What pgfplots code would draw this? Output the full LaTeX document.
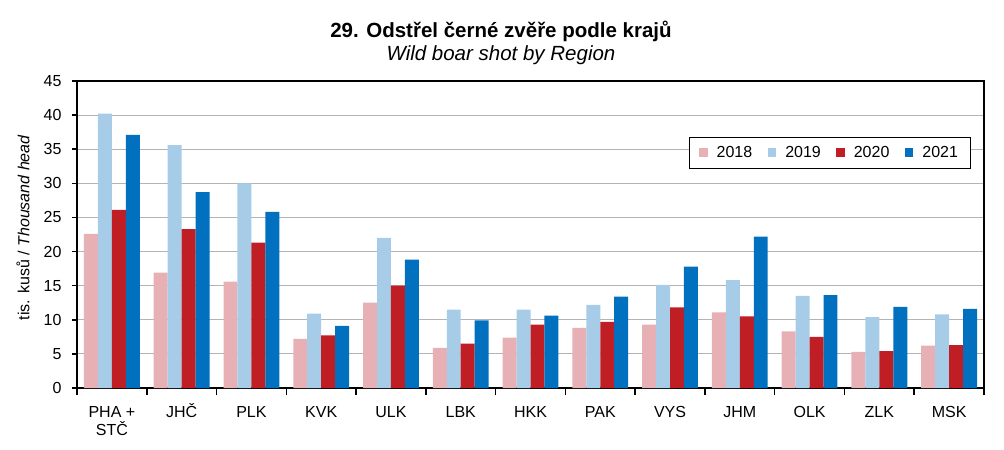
\documentclass[border=0pt]{standalone}
\usepackage{fontspec}
\setmainfont{Liberation Sans}
\usepackage{pgfplots}
\pgfplotsset{compat=1.18}
\definecolor{c18}{HTML}{E6B0B5}
\definecolor{c19}{HTML}{A7CCE7}
\definecolor{c20}{HTML}{BE1E24}
\definecolor{c21}{HTML}{0070BF}
\definecolor{gridc}{HTML}{B4B4B4}
\begin{document}
\begin{tikzpicture}
\useasboundingbox (-77bp,-62bp) rectangle (927bp,388bp);
\begin{axis}[
  at={(0,0)}, anchor=south west,
  scale only axis, width=907bp, height=307bp,
  ymin=0, ymax=45, ytick={0,5,...,45},
  xmin=-0.5, xmax=12.5,
  xtick={0,...,12},
  xticklabels={{\vphantom{Č}PHA +\\STČ},JHČ,\vphantom{Č}PLK,\vphantom{Č}KVK,\vphantom{Č}ULK,\vphantom{Č}LBK,\vphantom{Č}HKK,\vphantom{Č}PAK,\vphantom{Č}VYS,\vphantom{Č}JHM,\vphantom{Č}OLK,\vphantom{Č}ZLK,\vphantom{Č}MSK},
  xtick pos=bottom, ytick pos=left,
  major x tick style={draw=none},
  extra x ticks={-0.5,0.5,...,12.5},
  extra x tick labels={},
  extra x tick style={major tick length=7bp, grid=none, major x tick style={draw=black, line width=1.5bp}},
  tick align=outside,
  major tick length=5bp,
  tick style={black, line width=1.5bp},
  axis line style={line width=1.5bp},
  ymajorgrids, major grid style={gridc, line width=1bp},
  ticklabel style={font=\fontsize{16bp}{18.5bp}\selectfont},
  xticklabel style={align=center, yshift=-6.5bp},
  yticklabel style={xshift=-7bp},
  /pgf/number format/assume math mode=true,
  ylabel={tis. kusů / \textit{Thousand head}},
  ylabel style={font=\fontsize{16bp}{18bp}\selectfont, at={(axis description cs:-0.0595,0.523)}, anchor=center},
  legend columns=4,
  legend style={at={(0.985,0.818)}, anchor=north east, draw=black, line width=0.8bp,
    font=\fontsize{16bp}{18bp}\selectfont, inner xsep=10bp, inner ysep=7bp,
    /tikz/every odd column/.append style={column sep=7bp},
    /tikz/every even column/.append style={column sep=13.5bp}},
  legend image code/.code={\fill[#1] (0bp,-4bp) rectangle (8.5bp,4.5bp);},
]
\addplot[ybar, bar width=0.2, bar shift=-0.3, fill=c18, draw=none] coordinates {
 (0,22.6) (1,16.9) (2,15.6) (3,7.2) (4,12.5) (5,5.9) (6,7.4) (7,8.8) (8,9.3) (9,11.1) (10,8.3) (11,5.3) (12,6.2)};
\addplot[ybar, bar width=0.2, bar shift=-0.1, fill=c19, draw=none] coordinates {
 (0,40.2) (1,35.6) (2,30.0) (3,10.9) (4,22.0) (5,11.5) (6,11.5) (7,12.2) (8,15.1) (9,15.8) (10,13.5) (11,10.4) (12,10.8)};
\addplot[ybar, bar width=0.2, bar shift=0.1, fill=c20, draw=none] coordinates {
 (0,26.1) (1,23.3) (2,21.3) (3,7.7) (4,15.0) (5,6.5) (6,9.3) (7,9.7) (8,11.8) (9,10.5) (10,7.5) (11,5.4) (12,6.3)};
\addplot[ybar, bar width=0.2, bar shift=0.3, fill=c21, draw=none] coordinates {
 (0,37.1) (1,28.7) (2,25.8) (3,9.1) (4,18.8) (5,9.9) (6,10.6) (7,13.4) (8,17.8) (9,22.2) (10,13.6) (11,11.9) (12,11.6)};
\legend{2018,2019,2020,2021}
\end{axis}
\node[anchor=base, font=\bfseries\fontsize{20.5bp}{24bp}\selectfont] at (424bp,350.7bp) {29. Odstřel černé zvěře podle krajů};
\node[anchor=base, font=\itshape\fontsize{20.5bp}{24bp}\selectfont] at (424bp,327.3bp) {Wild boar shot by Region};
\end{tikzpicture}
\end{document}
